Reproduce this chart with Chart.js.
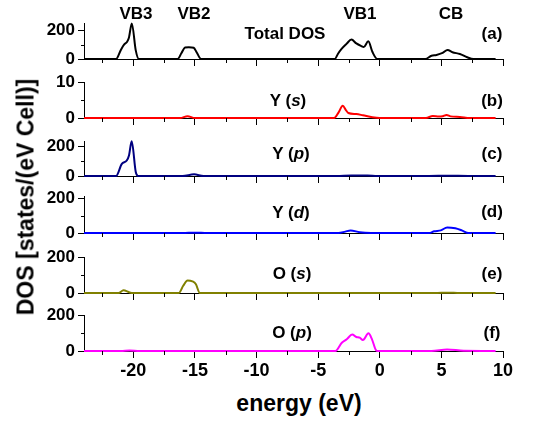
<!DOCTYPE html>
<html>
<head>
<meta charset="utf-8">
<script src="https://cdn.jsdelivr.net/npm/chart.js@4.4.1/dist/chart.umd.min.js"></script>
<style>
body { margin: 0; background: #fff; }
#wrap { position: relative; width: 533px; height: 425px; overflow: hidden;
  font-family: 'Liberation Sans', Arial, sans-serif; font-weight: bold; color: #000; }
#wrap canvas { position: absolute; left: 0; }
.lbl { position: absolute; transform: translate(-50%, -50%); font-size: 17px; line-height: 1; white-space: nowrap; z-index: 2; }
.big { font-size: 23px; }
</style>
</head>
<body>
<div id="wrap">
  <div class="lbl" style="left:136px;top:13px">VB3</div>
  <div class="lbl" style="left:194px;top:13px">VB2</div>
  <div class="lbl" style="left:360px;top:13px">VB1</div>
  <div class="lbl" style="left:451px;top:13px">CB</div>

  <div class="lbl" style="left:285px;top:33px">Total DOS</div>
  <div class="lbl" style="left:492px;top:33px">(a)</div>
  <div class="lbl" style="left:288px;top:100px">Y (<i>s</i>)</div>
  <div class="lbl" style="left:492px;top:100px">(b)</div>
  <div class="lbl" style="left:291px;top:153px">Y (<i>p</i>)</div>
  <div class="lbl" style="left:492px;top:153px">(c)</div>
  <div class="lbl" style="left:291px;top:212px">Y (<i>d</i>)</div>
  <div class="lbl" style="left:492px;top:211px">(d)</div>
  <div class="lbl" style="left:292px;top:273px">O (<i>s</i>)</div>
  <div class="lbl" style="left:492px;top:273px">(e)</div>
  <div class="lbl" style="left:292px;top:332px">O (<i>p</i>)</div>
  <div class="lbl" style="left:492px;top:332px">(f)</div>

  <div class="lbl big" style="left:299px;top:403px">energy (eV)</div>
  <div class="lbl big" style="left:26px;top:197px;transform:translate(-50%,-50%) rotate(-90deg)">DOS [states/(eV Cell)]</div>
</div>
<script>
// energy axis
const xMajor = [-20, -15, -10, -5, 0, 5, 10];
const xMinor = [-22.5, -17.5, -12.5, -7.5, -2.5, 2.5, 7.5];

// (a) total DOS
const energyTotal = [-24, -21.4, -21.0, -20.75, -20.5, -20.35, -20.12, -19.8, -19.55,
  -16.4, -16.1, -15.8, -15.5, -15.1, -14.85, -14.5,
  -3.65, -3.4, -3.1, -2.7, -2.3, -1.9, -1.5, -1.3, -0.93, -0.6, -0.2,
  3.7, 4.2, 4.6, 5.1, 5.5, 5.9, 6.5, 7.1, 7.6, 9.4];
const dosTotal = [0, 0, 65, 100, 120, 150, 247, 60, 0,
  0, 40, 80, 82, 78, 45, 0,
  0, 35, 70, 105, 135, 108, 90, 83, 123, 50, 0,
  0, 23, 28, 42, 63, 47, 35, 12, 0, 0];

// (b) Y s
const energyYs = [-24, -16.2, -15.6, -15.0,
  -3.7, -3.35, -3.0, -2.75, -2.55, -1.9, -1.37, -0.6, 0,
  3.75, 4.3, 4.8, 5.1, 5.42, 5.75, 6.5, 7.3, 9.4];
const dosYs = [0, 0, 0.5, 0,
  0, 1.5, 3.4, 2.2, 1.4, 1.1, 0.75, 0.2, 0,
  0, 0.55, 0.4, 0.5, 0.85, 0.45, 0.3, 0, 0];

// (c) Y p
const energyYp = [-24, -21.4, -20.93, -20.53, -20.35, -20.13, -19.8, -19.6,
  -16.0, -15.07, -14.3, -3.5, -2.3, -1.0, -0.2, 4.0, 5.5, 7.2, 9.4];
const dosYp = [0, 0, 82, 104, 138, 233, 27, 0,
  0, 11, 0, 0, 4, 4, 0, 0, 2, 0, 0];

// (d) Y d
const energyYd = [-24, -16, -15, -14,
  -3.35, -2.8, -2.37, -1.63, -0.7,
  4.0, 4.42, 4.95, 5.47, 6.13, 6.66, 7.2, 9.4];
const dosYd = [0, 0, 2, 0,
  0, 8, 15, 4, 0,
  0, 10, 15, 32, 27, 15, 0, 0];

// (e) O s
const energyOs = [-24, -21.2, -20.8, -20.3, -20.0,
  -16.3, -15.95, -15.6, -15.2, -14.93, -14.6, 4.5, 5.5, 6.5, 9.4];
const dosOs = [0, 0, 15, 3, 0,
  0, 40, 70, 65, 50, 0, 0, 2, 0, 0];

// (f) O p
const energyOp = [-24, -21, -20.3, -19.5,
  -3.6, -3.08, -2.68, -2.24, -1.9, -1.63, -1.37, -0.92, -0.63, -0.3, -0.15,
  4.2, 5.47, 6.8, 9.4];
const dosOp = [0, 0, 3, 0,
  0, 46, 65, 91, 78, 74, 61, 98, 65, 4, 0,
  0, 9, 1, 0];

const panels = [
  { x: energyTotal, y: dosTotal, color: '#000000', max: 250, major: [0, 200], minor: [100], top: 23, bottom: 59 },
  { x: energyYs, y: dosYs, color: '#ff0000', max: 10, major: [0, 10], minor: [5], top: 82, bottom: 118 },
  { x: energyYp, y: dosYp, color: '#000080', max: 235, major: [0, 200], minor: [100], top: 141, bottom: 176 },
  { x: energyYd, y: dosYd, color: '#0000ff', max: 212, major: [0, 200], minor: [100], top: 196, bottom: 233 },
  { x: energyOs, y: dosOs, color: '#808000', max: 200, major: [0, 200], minor: [100], top: 257, bottom: 293 },
  { x: energyOp, y: dosOp, color: '#ff00ff', max: 200, major: [0, 200], minor: [100], top: 315, bottom: 351 }
];

Chart.defaults.font.family = "'Liberation Sans', Arial, sans-serif";
Chart.defaults.font.weight = 'bold';
Chart.defaults.color = '#000';

// short ticks between the labelled ones
const minorTicks = {
  id: 'minorTicks',
  afterDraw(chart, args, opts) {
    const ctx = chart.ctx;
    const xs = chart.scales.x, ys = chart.scales.y;
    ctx.save();
    ctx.strokeStyle = '#000';
    ctx.lineWidth = 1;
    ctx.beginPath();
    xMinor.forEach(v => {
      const px = Math.round(xs.getPixelForValue(v)) + 0.5;
      ctx.moveTo(px, xs.top);
      ctx.lineTo(px, xs.top + 4);
    });
    opts.yMinor.forEach(v => {
      const py = Math.round(ys.getPixelForValue(v)) + 0.5;
      ctx.moveTo(ys.right, py);
      ctx.lineTo(ys.right - 3, py);
    });
    ctx.stroke();
    ctx.restore();
  }
};

const wrap = document.getElementById('wrap');

panels.forEach((p, i) => {
  const last = i === panels.length - 1;
  const bottomH = last ? 34 : 10;
  const canvas = document.createElement('canvas');
  canvas.width = 533;
  canvas.height = (p.bottom - p.top) + 10 + bottomH;
  canvas.style.top = (p.top - 10) + 'px';
  wrap.appendChild(canvas);

  new Chart(canvas, {
    type: 'line',
    data: {
      datasets: [{
        data: p.x.map((e, k) => ({ x: e, y: p.y[k] })),
        borderColor: p.color,
        borderWidth: 2,
        pointRadius: 0,
        cubicInterpolationMode: 'monotone',
        fill: false,
        clip: false
      }]
    },
    options: {
      responsive: false,
      animation: false,
      devicePixelRatio: 1,
      layout: { padding: { top: 10, right: 30, bottom: 0, left: 0 } },
      plugins: {
        legend: { display: false },
        tooltip: { enabled: false },
        minorTicks: { yMinor: p.minor }
      },
      scales: {
        x: {
          type: 'linear',
          min: -24,
          max: 10,
          afterBuildTicks: s => { s.ticks = xMajor.map(v => ({ value: v })); },
          afterFit: s => { s.height = bottomH; s.paddingLeft = 0; s.paddingRight = 0; },
          ticks: { display: last, font: { size: 18, weight: 'bold' }, padding: 2, maxRotation: 0, callback: v => String(v) },
          grid: { drawOnChartArea: false, drawTicks: true, tickLength: 7, color: '#000' },
          border: { display: true, color: '#000', width: 1 }
        },
        y: {
          min: 0,
          max: p.max,
          afterBuildTicks: s => { s.ticks = p.major.map(v => ({ value: v })); },
          afterFit: s => { s.width = 84; s.paddingTop = 0; s.paddingBottom = 0; },
          ticks: { font: { size: 17, weight: 'bold' }, padding: 3, callback: v => String(v) },
          grid: { drawOnChartArea: false, drawTicks: true, tickLength: 6, color: '#000' },
          border: { display: true, color: '#000', width: 1 }
        }
      }
    },
    plugins: [minorTicks]
  });
});
</script>
</body>
</html>
